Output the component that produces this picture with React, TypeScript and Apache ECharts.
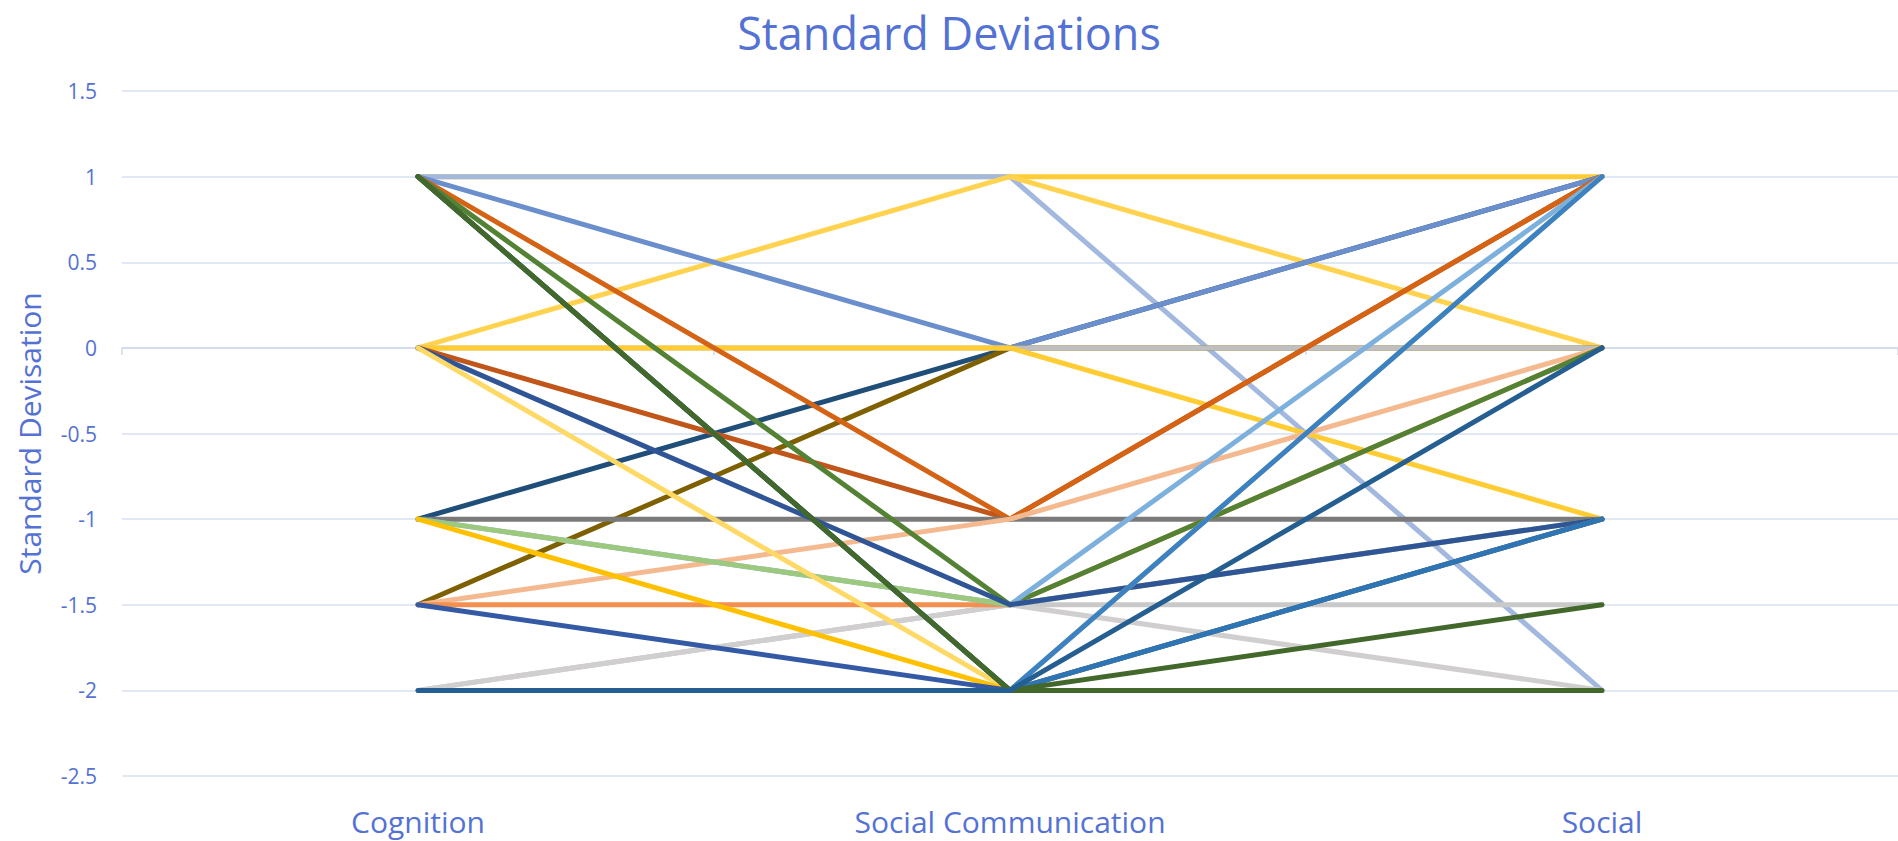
import React, { useEffect, useRef } from "react";
import * as echarts from "echarts";

const categories = ["Cognition", "Social Communication", "Social"];
const yTicks = { min: -2.5, max: 1.5, interval: 0.5 };

// Each series: values at Cognition, Social Communication, Social
const seriesValues: number[][] = [
  [1, 1, 1],
  [1, 1, -2],
  [0, 1, 0],
  [-1, 0, 1],
  [1, 0, 1],
  [-1.5, 0, 0],
  [0, 0, 0],
  [0, 0, -1],
  [0, -1, 1],
  [1, -1, 1],
  [-1, -1, -1],
  [-1.5, -1, 0],
  [-2, -1.5, -1.5],
  [-2, -1.5, -2],
  [-1.5, -1.5, 0],
  [1, -1.5, 0],
  [-1, -1.5, 1],
  [-1, -1.5, -1],
  [0, -1.5, -1],
  [0, -2, 1],
  [-1, -2, -1],
  [-1.5, -2, -1],
  [1, -2, 1],
  [1, -2, -1],
  [1, -2, -2],
  [1, -2, -1.5],
  [-2, -2, 0],
];

const seriesColors: string[] = [
  "#FFCC33",
  "#A3B8DE",
  "#FFD34F",
  "#1F4E79",
  "#6A8FCC",
  "#7F6000",
  "#BFBFBF",
  "#FFCC33",
  "#C0561A",
  "#D46316",
  "#7A7A7A",
  "#F4B98F",
  "#C9C9C9",
  "#D0CECE",
  "#F4904F",
  "#548235",
  "#7EB0DE",
  "#9DC97E",
  "#2F5597",
  "#FFD966",
  "#FFC000",
  "#3459A5",
  "#3A82C4",
  "#2E75B6",
  "#43682B",
  "#43682B",
  "#255E91",
];

const textColor = "#5472D4";
const gridColor = "#D6DFF2";
const FONT = "'Open Sans', 'Noto Sans', sans-serif";

export default function App() {
  const ref = useRef<HTMLDivElement>(null);

  useEffect(() => {
    if (!ref.current) return;
    const chart = echarts.init(ref.current, null, { renderer: "svg" });
    chart.setOption({
      animation: false,
      backgroundColor: "#ffffff",
      textStyle: { fontFamily: FONT },
      title: {
        text: "Standard Deviations",
        left: "center",
        top: 4,
        padding: 0,
        textStyle: {
          color: textColor,
          fontSize: 45,
          fontWeight: "normal",
          fontFamily: FONT,
          lineHeight: 56,
        },
      },
      grid: { left: 122, right: 0, top: 91, bottom: 65, containLabel: false },
      xAxis: [
        {
          type: "category",
          data: categories,
          position: "bottom",
          boundaryGap: true,
          axisLine: { show: false, onZero: false },
          axisTick: { show: false },
          axisLabel: {
            color: textColor,
            fontSize: 30,
            fontFamily: FONT,
            margin: 30,
          },
        },
        {
          type: "category",
          data: categories,
          position: "bottom",
          boundaryGap: true,
          axisLine: { show: true, onZero: true, lineStyle: { color: "#D0D8EC", width: 1.5 } },
          axisTick: { show: true, length: 7, lineStyle: { color: "#D0D8EC", width: 1.5 } },
          axisLabel: { show: false },
          splitLine: { show: false },
        },
      ],
      yAxis: {
        type: "value",
        min: yTicks.min,
        max: yTicks.max,
        interval: yTicks.interval,
        name: "Standard Devisation",
        nameLocation: "middle",
        nameGap: 78,
        nameRotate: 90,
        nameTextStyle: { color: textColor, fontSize: 30, fontFamily: FONT },
        axisLine: { show: false },
        axisTick: { show: false },
        axisLabel: { color: textColor, fontSize: 21, fontFamily: FONT, margin: 25 },
        splitLine: { show: true, lineStyle: { color: gridColor, width: 1.5 } },
      },
      series: seriesValues.map((vals, i) => ({
        type: "line",
        name: "S" + (i + 1),
        data: vals,
        xAxisIndex: 0,
        showSymbol: false,
        symbol: "none",
        lineStyle: { color: seriesColors[i], width: 5, cap: "round", join: "round" },
        itemStyle: { color: seriesColors[i] },
        emphasis: { disabled: true },
      })),
    });
    return () => chart.dispose();
  }, []);

  return (
    <div
      ref={ref}
      style={{ position: "fixed", left: 0, top: 0, width: 1898, height: 841 }}
    />
  );
}
